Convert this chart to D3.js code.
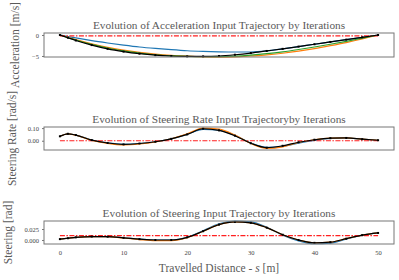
<!DOCTYPE html>
<html lang="en">
<head>
  <meta charset="UTF-8">
  <title>Input Trajectories</title>
  <script src="https://d3js.org/d3.v7.min.js"></script>
  <style>
    body { margin: 0; background: #fff; }
    svg { display: block; }
    text { font-family: "Liberation Serif", "DejaVu Serif", serif; fill: #5a5a5a; }
    .spine { fill: none; stroke: #777; stroke-width: 1; }
    .tick line { stroke: #777; }
    .tick text { font-size: 6.5px; fill: #444; }
    .domain { display: none; }
  </style>
</head>
<body>
<svg width="399" height="280"></svg>
<script>
const svg = d3.select("svg");

// === Data ===
const distance = [0, 1.25, 2.5, 5, 7.5, 10, 12.5, 15, 17.5, 20, 22.5, 25, 27.5, 30, 32.5, 35, 37.5, 40, 42.5, 45, 47.5, 50];
const xTicks = [0, 10, 20, 30, 40, 50];

const accBlue   = [0, -0.35, -0.7, -1.35, -1.9, -2.4, -2.85, -3.2, -3.5, -3.75, -3.9, -4.0, -4.05, -4.05, -3.8, -3.3, -2.75, -2.2, -1.65, -1.1, -0.55, 0];
const accOrange = [0, -0.55, -1.1, -2.1, -2.95, -3.6, -4.15, -4.55, -4.85, -5.05, -5.2, -5.25, -5.2, -5.0, -4.75, -4.35, -3.85, -3.25, -2.55, -1.8, -0.95, 0];
const accGreen  = [0, -0.6, -1.2, -2.25, -3.1, -3.8, -4.3, -4.7, -4.95, -5.1, -5.15, -5.15, -5.05, -4.8, -4.45, -4.0, -3.45, -2.85, -2.2, -1.5, -0.75, 0];
const accBlack  = [0, -0.65, -1.3, -2.4, -3.3, -3.95, -4.45, -4.8, -5.0, -5.1, -5.1, -5.0, -4.7, -4.3, -3.8, -3.3, -2.75, -2.2, -1.65, -1.1, -0.55, 0];
const accRef = -0.2;

const rateBlue   = [0.035, 0.055, 0.045, 0.006, -0.017, -0.028, -0.022, -0.008, 0.015, 0.05, 0.09, 0.084, 0.042, -0.018, -0.052, -0.045, -0.02, 0.002, 0.018, 0.022, 0.012, 0.004];
const rateOrange = [0.035, 0.055, 0.044, 0.003, -0.021, -0.033, -0.026, -0.01, 0.016, 0.054, 0.1, 0.092, 0.045, -0.022, -0.06, -0.048, -0.014, 0.008, 0.02, 0.022, 0.012, 0.004];
const rateBlack  = [0.035, 0.055, 0.045, 0.005, -0.018, -0.029, -0.022, -0.008, 0.015, 0.05, 0.095, 0.082, 0.04, -0.02, -0.055, -0.04, -0.012, 0.008, 0.02, 0.022, 0.012, 0.004];
const rateRef = 0;

const steerBlue   = [0.002, 0.004, 0.006, 0.0078, 0.0075, 0.005, 0.002, 0.0, 0.0, 0.006, 0.021, 0.037, 0.043, 0.041, 0.029, 0.011, -0.002, -0.0085, -0.007, 0.002, 0.011, 0.016];
const steerOrange = [0.002, 0.004, 0.006, 0.0078, 0.0075, 0.0045, 0.001, -0.0015, -0.0015, 0.005, 0.02, 0.035, 0.041, 0.039, 0.028, 0.012, 0.0, -0.0065, -0.005, 0.003, 0.011, 0.016];
const steerBlack  = [0.002, 0.004, 0.006, 0.0078, 0.0075, 0.005, 0.002, 0.0, 0.0, 0.006, 0.02, 0.035, 0.041, 0.039, 0.028, 0.012, 0.0, -0.0065, -0.005, 0.003, 0.011, 0.016];
const steerRef = 0.01;

// === Layout ===
const left = 44, right = 394;
const x = d3.scaleLinear().domain([-2.5, 52.5]).range([left, right]);

const panels = [
  { title: "Evolution of Acceleration Input Trajectory by Iterations", ylabel: "Acceleration [m/s]",
    top: 33, bottom: 57, domain: [-5.24, 0.48], ticks: [0, -5], fmt: d3.format("d"), labelX: 15,
    series: [accBlue, accOrange, accGreen], black: accBlack, ref: accRef },
  { title: "Evolution of Steering Rate Input Trajectoryby Iterations", ylabel: "Steering Rate [rad/s]",
    top: 127, bottom: 150, domain: [-0.0733, 0.1087], ticks: [0, 0.1], fmt: d3.format(".2f"), labelX: 12,
    series: [rateBlue, rateOrange], black: rateBlack, ref: rateRef },
  { title: "Evolution of Steering Input Trajectory by Iterations", ylabel: "Steering [rad]",
    top: 221, bottom: 244, domain: [-0.0091, 0.0432], ticks: [0, 0.025], fmt: d3.format(".3f"), labelX: 8,
    series: [steerBlue, steerOrange], black: steerBlack, ref: steerRef }
];

const colors = ["#1f77b4", "#ff7f0e", "#2ca02c"];

panels.forEach((p, i) => {
  const y = d3.scaleLinear().domain(p.domain).range([p.bottom, p.top]);
  const g = svg.append("g");

  const line = vals => d3.line()
    .x((d, j) => x(distance[j]))
    .y(d => y(d))
    .curve(d3.curveMonotoneX)(vals);

  p.series.forEach((s, k) => {
    g.append("path").attr("d", line(s))
      .attr("fill", "none").attr("stroke", colors[k]).attr("stroke-width", 1.2);
  });

  g.append("line")
    .attr("x1", x(0)).attr("x2", x(50))
    .attr("y1", y(p.ref)).attr("y2", y(p.ref))
    .attr("stroke", "#ff2020").attr("stroke-width", 1.2)
    .attr("stroke-dasharray", "5,1.5,1.5,1.5");

  g.append("path").attr("d", line(p.black))
    .attr("fill", "none").attr("stroke", "#000").attr("stroke-width", 1.2);

  g.selectAll("rect.mk").data(p.black).join("rect")
    .attr("class", "mk")
    .attr("x", (d, j) => x(distance[j]) - 1)
    .attr("y", d => y(d) - 1)
    .attr("width", 2).attr("height", 2)
    .attr("fill", "#000");

  g.append("rect").attr("class", "spine")
    .attr("x", left).attr("y", p.top)
    .attr("width", right - left).attr("height", p.bottom - p.top);

  g.append("g").attr("transform", `translate(${left},0)`)
    .call(d3.axisLeft(y).tickValues(p.ticks).tickFormat(p.fmt).tickSize(2).tickPadding(3));

  g.append("text")
    .attr("x", (left + right) / 2).attr("y", p.top - 4)
    .attr("text-anchor", "middle")
    .style("font-size", "11.3px")
    .text(p.title);

  g.append("text")
    .attr("transform", `translate(${p.labelX},${(p.top + p.bottom) / 2}) rotate(-90)`)
    .attr("text-anchor", "middle")
    .attr("dy", "0.35em")
    .style("font-size", "11.5px")
    .text(p.ylabel);

  if (i === 2) {
    g.append("g").attr("transform", `translate(0,${p.bottom})`)
      .call(d3.axisBottom(x).tickValues(xTicks).tickSize(0).tickPadding(6));
  }
});

const xl = svg.append("text")
  .attr("x", (left + right) / 2).attr("y", 272)
  .attr("text-anchor", "middle")
  .style("font-size", "11.5px");
xl.append("tspan").text("Travelled Distance - ");
xl.append("tspan").style("font-style", "italic").text("s");
xl.append("tspan").text(" [m]");
</script>
</body>
</html>
